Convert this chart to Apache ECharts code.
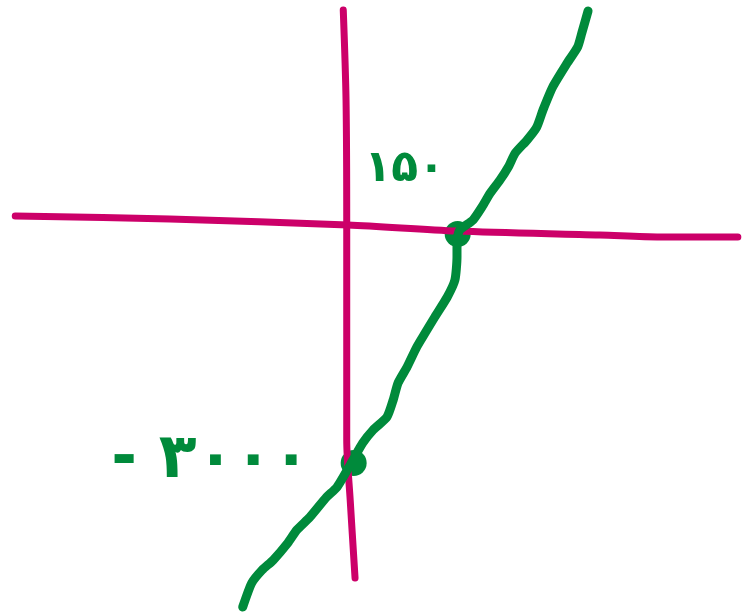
<!DOCTYPE html>
<html>
<head>
<meta charset="utf-8">
<script src="https://cdn.jsdelivr.net/npm/echarts@6/dist/echarts.min.js"></script>
<style>
  html, body { margin: 0; padding: 0; background: #fff; }
  #sketch { width: 742px; height: 615px; }
</style>
</head>
<body>
<div id="sketch"></div>
<script>
// hand drawn axes (data units)
var axisX = [[-488, 236], [-265, 196], [-8, 118], [149, 39], [355, -13], [442, -39], [554, -39]]
var axisY = [[-15, 2934], [-11, 1755], [-10, 118], [-10, -2698], [-5, -3484], [2, -4506]]

// green line
var lineX = [338, 329, 323, 308, 287, 273, 264, 250, 233, 223, 211, 197, 185, 172, 153, 149, 149, 146, 135, 117,
  103, 91, 77, 64, 57, 48, 28, 13, -1, -24, -39, -63, -82, -95, -116, -132, -147, -160]
var lineY = [2921, 2633, 2449, 2240, 1925, 1624, 1401, 1231, 1061, 878, 707, 537, 354, 183, 52, -79, -301, -603, -825, -1087,
  -1297, -1480, -1742, -1952, -2174, -2397, -2567, -2738, -2960, -3314, -3445, -3707, -3877, -4047, -4270, -4401, -4571, -4886]

// intercepts
var pointX = [150, 0]
var pointY = [0, -3000]
var pointLabels = ['۱۵۰', '- ۳۰۰۰']

var magenta = '#cc0069'
var green = '#008a3b'

var chart = echarts.init(document.getElementById('sketch'))

var option = {
  animation: false,
  backgroundColor: '#fff',
  grid: { left: 0, right: 0, top: 0, bottom: 0 },
  xAxis: { type: 'value', min: -510, max: 560, show: false },
  yAxis: { type: 'value', min: -4990, max: 3065, show: false },
  series: [
    {
      type: 'line',
      data: axisX,
      showSymbol: false,
      smooth: 0.3,
      lineStyle: { color: magenta, width: 7, cap: 'round', join: 'round' }
    },
    {
      type: 'line',
      data: axisY,
      showSymbol: false,
      smooth: 0.3,
      lineStyle: { color: magenta, width: 7, cap: 'round', join: 'round' }
    },
    {
      type: 'line',
      data: lineX.map(function (x, i) { return [x, lineY[i]] }),
      showSymbol: false,
      smooth: 0.2,
      lineStyle: { color: green, width: 9, cap: 'round', join: 'round' }
    },
    {
      type: 'scatter',
      symbolSize: 26,
      itemStyle: { color: green, opacity: 1 },
      label: {
        show: true,
        position: 'inside',
        color: green,
        fontFamily: 'DejaVu Sans',
        fontWeight: 'bold',
        formatter: function (p) { return pointLabels[p.dataIndex] }
      },
      data: [
        { value: [pointX[0], pointY[0]], label: { fontSize: 44, offset: [-53, -64] } },
        { value: [pointX[1], pointY[1]], label: { fontSize: 62, offset: [-143, -2] } }
      ]
    }
  ]
}

chart.setOption(option)
</script>
</body>
</html>
